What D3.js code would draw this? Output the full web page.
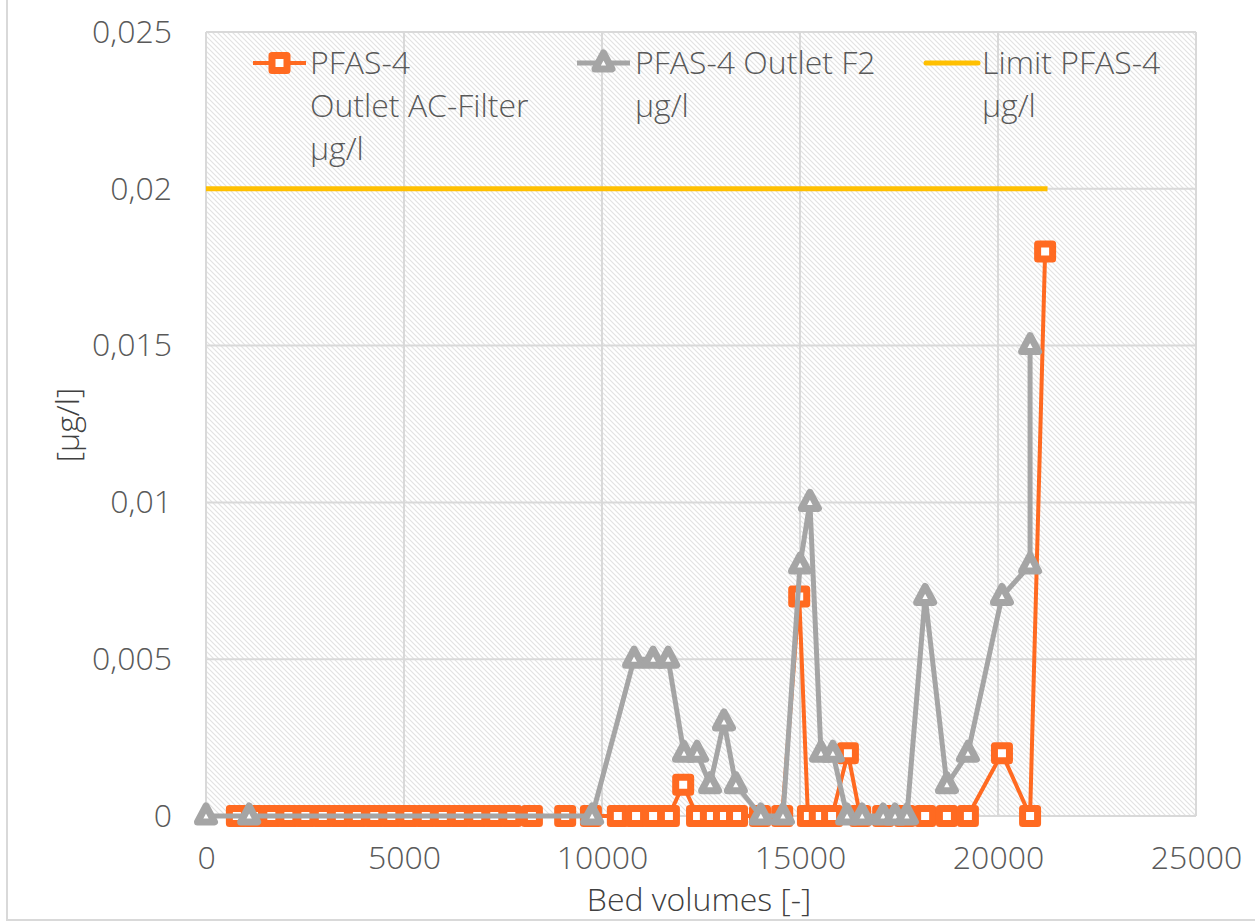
<!DOCTYPE html>
<html>
<head>
<meta charset="utf-8">
<script src="https://cdn.jsdelivr.net/npm/d3@7"></script>
<style>
  html, body { margin: 0; padding: 0; background: #fff; }
  svg { display: block; font-family: "Open Sans", "Noto Sans", sans-serif; }
</style>
</head>
<body>
<svg id="chart" width="1255" height="923"></svg>
<script>
// ---- data ----
const xTicks = [0, 5000, 10000, 15000, 20000, 25000];
const yTicks = [0, 0.005, 0.01, 0.015, 0.02, 0.025];
const yTickLabels = ["0", "0,005", "0,01", "0,015", "0,02", "0,025"];

const bvAC  = [780, 1210, 1650, 2080, 2510, 2950, 3380, 3810, 4250, 4680, 5110, 5550, 5980, 6410, 6850, 7280, 7710, 8230,
               9070, 9720, 10400, 10860, 11290, 11690, 12050, 12400, 12750, 13080, 13410, 13990, 14550, 14980, 15200, 15500,
               15810, 16210, 16520, 17100, 17650, 18160, 18710, 19240, 20100, 20810, 21190];
const valAC = [0, 0, 0, 0, 0, 0, 0, 0, 0, 0, 0, 0, 0, 0, 0, 0, 0, 0,
               0, 0, 0, 0, 0, 0, 0.001, 0, 0, 0, 0, 0, 0, 0.007, 0, 0,
               0, 0.002, 0, 0, 0, 0, 0, 0, 0.002, 0, 0.018];

const bvF2  = [0, 1090, 9750, 10810, 11290, 11670, 12070, 12400, 12730, 13080, 13380, 14010, 14570, 15000, 15250, 15530,
               15830, 16190, 16570, 17100, 17400, 17700, 18160, 18710, 19240, 20100, 20810, 20810];
const valF2 = [0, 0, 0, 0.005, 0.005, 0.005, 0.002, 0.002, 0.001, 0.003, 0.001, 0, 0, 0.008, 0.01, 0.002,
               0.002, 0, 0, 0, 0, 0, 0.007, 0.001, 0.002, 0.007, 0.008, 0.015];

const bvLimit  = [0, 21250];
const valLimit = [0.02, 0.02];

const seriesNames = [["PFAS-4", "Outlet AC-Filter", "µg/l"], ["PFAS-4 Outlet F2", "µg/l"], ["Limit PFAS-4", "µg/l"]];
const xTitle = "Bed volumes [-]";
const yTitle = "[µg/l]";

// ---- layout ----
const svg = d3.select("#chart");
const x = d3.scaleLinear().domain([0, 25000]).range([206, 1196]);
const y = d3.scaleLinear().domain([0, 0.025]).range([816, 32]);
const cOrange = "#FF6A21", cGray = "#A5A5A5", cYellow = "#FFC000";
const textCol = "#595959", gridCol = "#D9D9D9";
const FS = 32;

// chart border (outer)
svg.append("rect").attr("x", 7).attr("y", -2).attr("width", 1300).attr("height", 922)
  .attr("fill", "none").attr("stroke", gridCol).attr("stroke-width", 2);

// hatch pattern
const defs = svg.append("defs");
const pat = defs.append("pattern").attr("id", "hatch").attr("patternUnits", "userSpaceOnUse")
  .attr("width", 5).attr("height", 5);
pat.append("rect").attr("width", 5).attr("height", 5).attr("fill", "#fff");
pat.append("path").attr("d", "M0,0 L5,5 M-1,4 L1,6 M4,-1 L6,1")
  .attr("stroke", "#E2E2E2").attr("stroke-width", 1.1);

svg.append("rect").attr("x", x(0)).attr("y", y(0.025)).attr("width", x(25000) - x(0)).attr("height", y(0) - y(0.025))
  .attr("fill", "url(#hatch)");

// grid
svg.append("g").selectAll("line.gx").data(xTicks).join("line")
  .attr("x1", d => x(d)).attr("x2", d => x(d)).attr("y1", y(0)).attr("y2", y(0.025))
  .attr("stroke", gridCol).attr("stroke-width", 2);
svg.append("g").selectAll("line.gy").data(yTicks).join("line")
  .attr("x1", x(0)).attr("x2", x(25000)).attr("y1", d => y(d)).attr("y2", d => y(d))
  .attr("stroke", gridCol).attr("stroke-width", 2);

// axes (labels only)
const xAxis = svg.append("g").attr("transform", `translate(0,${y(0)})`)
  .call(d3.axisBottom(x).tickValues(xTicks).tickSize(0).tickPadding(30).tickFormat(d => String(d)));
xAxis.select(".domain").remove();
xAxis.selectAll("text").attr("font-size", FS).attr("fill", textCol).attr("font-weight", 300)
  .attr("font-family", "'Open Sans', sans-serif");

const yAxis = svg.append("g").attr("transform", `translate(${x(0)},0)`)
  .call(d3.axisLeft(y).tickValues(yTicks).tickSize(0).tickPadding(34).tickFormat((d, i) => yTickLabels[i]));
yAxis.select(".domain").remove();
yAxis.selectAll("text").attr("font-size", FS).attr("fill", textCol).attr("font-weight", 300)
  .attr("font-family", "'Open Sans', sans-serif");

// titles
svg.append("text").attr("x", 699).attr("y", 911).attr("text-anchor", "middle")
  .attr("font-size", FS).attr("fill", "#404040").attr("font-weight", 300).text(xTitle);
svg.append("text").attr("transform", "translate(79,425) rotate(-90)").attr("text-anchor", "middle")
  .attr("font-size", FS).attr("fill", "#404040").attr("font-weight", 300).text(yTitle);

// lines
const line = d3.line().x(d => x(d[0])).y(d => y(d[1]));
const acPts = bvAC.map((b, i) => [b, valAC[i]]);
const f2Pts = bvF2.map((b, i) => [b, valF2[i]]);
const limPts = bvLimit.map((b, i) => [b, valLimit[i]]);

svg.append("path").datum(limPts).attr("d", line).attr("fill", "none")
  .attr("stroke", cYellow).attr("stroke-width", 5);

svg.append("path").datum(acPts).attr("d", line).attr("fill", "none")
  .attr("stroke", cOrange).attr("stroke-width", 4).attr("stroke-linejoin", "round");

const triPath = "M0,-10 L8.5,6 L-8.5,6 Z";
svg.append("g").selectAll("rect").data(acPts).join("rect")
  .attr("x", d => x(d[0]) - 7.5).attr("y", d => y(d[1]) - 7.5).attr("width", 15).attr("height", 15)
  .attr("fill", "#fff").attr("stroke", cOrange).attr("stroke-width", 7).attr("stroke-linejoin", "round");

svg.append("path").datum(f2Pts).attr("d", line).attr("fill", "none")
  .attr("stroke", cGray).attr("stroke-width", 5).attr("stroke-linejoin", "round");
svg.append("g").selectAll("path").data(f2Pts).join("path")
  .attr("transform", d => `translate(${x(d[0])},${y(d[1])})`)
  .attr("d", triPath).attr("fill", "#fff").attr("stroke", cGray).attr("stroke-width", 7).attr("stroke-linejoin", "round");

// legend
const leg = svg.append("g").attr("font-size", FS).attr("fill", textCol).attr("font-weight", 300);
const legY = 63, lh = 43;
// entry 1
leg.append("line").attr("x1", 253).attr("x2", 306).attr("y1", legY).attr("y2", legY).attr("stroke", cOrange).attr("stroke-width", 4);
leg.append("rect").attr("x", 279.5 - 7.5).attr("y", legY - 7.5).attr("width", 15).attr("height", 15)
  .attr("fill", "#fff").attr("stroke", cOrange).attr("stroke-width", 7).attr("stroke-linejoin", "round");
seriesNames[0].forEach((t, i) => leg.append("text").attr("x", 310).attr("y", legY + 11 + i * lh).text(t));
// entry 2
leg.append("line").attr("x1", 577).attr("x2", 630).attr("y1", legY).attr("y2", legY).attr("stroke", cGray).attr("stroke-width", 5);
leg.append("path").attr("transform", `translate(603.5,${legY})`).attr("d", triPath)
  .attr("fill", "#fff").attr("stroke", cGray).attr("stroke-width", 7).attr("stroke-linejoin", "round");
seriesNames[1].forEach((t, i) => leg.append("text").attr("x", 635).attr("y", legY + 11 + i * lh).text(t));
// entry 3
leg.append("line").attr("x1", 926).attr("x2", 978).attr("y1", legY).attr("y2", legY).attr("stroke", cYellow).attr("stroke-width", 5).attr("stroke-linecap", "round");
seriesNames[2].forEach((t, i) => leg.append("text").attr("x", 982).attr("y", legY + 11 + i * lh).text(t));
</script>
</body>
</html>
